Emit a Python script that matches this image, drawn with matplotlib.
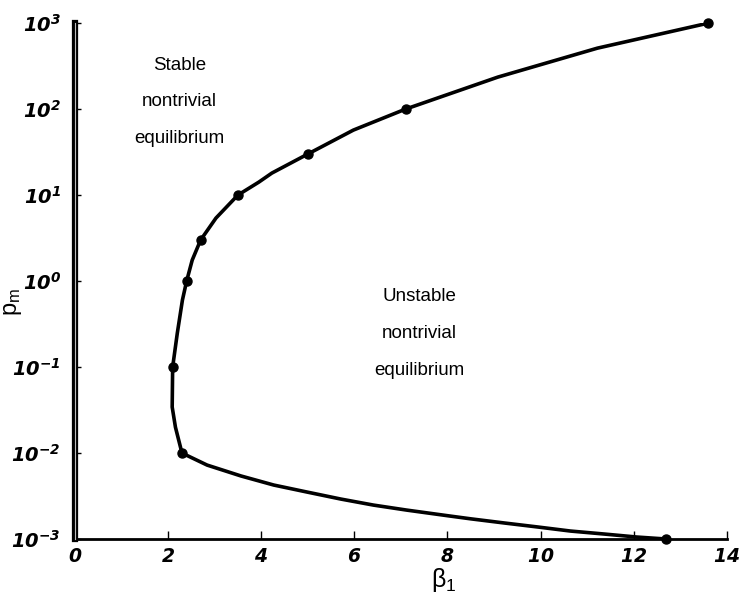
import matplotlib
matplotlib.use("Agg")
import matplotlib.pyplot as plt
from matplotlib.ticker import FixedLocator, FuncFormatter, NullLocator
import numpy as np

# boundary curve, from the top end round to the bottom end
curve_b1 = [13.6, 11.22, 9.08, 7.1, 5.98, 5.0, 4.23, 3.95, 3.5, 3.03, 2.7, 2.52,
            2.4, 2.31, 2.2, 2.1, 2.09, 2.16, 2.3,
            2.84, 3.57, 4.27, 4.98, 5.71, 6.41, 7.12, 8.06, 8.5, 9.23, 9.94,
            10.64, 11.37, 12.07, 12.7]
curve_logpm = [3.0, 2.709, 2.372, 2.0, 1.756, 1.477, 1.256, 1.151, 1.0, 0.733, 0.477, 0.244,
               0.0, -0.22, -0.605, -1.0, -1.465, -1.70, -2.0,
               -2.140, -2.267, -2.372, -2.453, -2.535, -2.605, -2.663, -2.733, -2.765,
               -2.814, -2.860, -2.907, -2.942, -2.977, -3.0]

# computed points (dots)
dot_b1 = [13.6, 7.1, 5.0, 3.5, 2.7, 2.4, 2.1, 2.3, 12.7]
dot_pm = [1e3, 1e2, 30, 10, 3, 1, 0.1, 0.01, 0.001]

xticks = [0, 2, 4, 6, 8, 10, 12, 14]
yexps = [-3, -2, -1, 0, 1, 2, 3]

plt.rcParams["mathtext.fontset"] = "custom"
plt.rcParams["mathtext.rm"] = "DejaVu Sans:italic:bold"
plt.rcParams["mathtext.it"] = "DejaVu Sans:italic:bold"
plt.rcParams["mathtext.sf"] = "Liberation Sans"

fig = plt.figure(figsize=(7.41, 5.93), dpi=100)
ax = fig.add_axes([0.101, 0.091, 0.880, 0.870])

pm = 10 ** np.array(curve_logpm)
ax.plot(curve_b1, pm, color="black", lw=2.6, solid_joinstyle="round")
ax.plot(dot_b1, dot_pm, "o", color="black", ms=6.5, clip_on=False, zorder=5)

ax.set_yscale("log")
ax.set_xlim(0, 14)
ax.set_ylim(1e-3, 1e3)

ax.xaxis.set_major_locator(FixedLocator(xticks))
ax.xaxis.set_major_formatter(FuncFormatter(lambda v, p: r"$%d$" % v))
ax.yaxis.set_major_locator(FixedLocator([10.0 ** e for e in yexps]))
ax.yaxis.set_minor_locator(NullLocator())
ax.yaxis.set_major_formatter(FuncFormatter(
    lambda v, p: r"$10^{%d}$" % int(round(np.log10(v)))))

ax.tick_params(axis="x", direction="in", length=6, width=1, labelsize=13.5, pad=6)
ax.tick_params(axis="y", direction="in", length=4, width=1, labelsize=14, pad=10)

for s in ["top", "right"]:
    ax.spines[s].set_visible(False)
ax.spines["bottom"].set_linewidth(2)
ax.spines["left"].set_linewidth(4.5)
ax.axvline(0, color="#bbbbbb", lw=0.8, zorder=6, clip_on=False)

ax.set_xlabel(r"$\mathsf{\beta_1}$", fontsize=18)
ax.xaxis.set_label_coords(0.565, -0.053)
ax.set_ylabel(r"$\mathsf{p_m}$", fontsize=17)
ax.yaxis.set_label_coords(-0.078, 0.46)

txt = dict(ha="center", va="center", fontsize=13.5, family="Liberation Sans",
           transform=ax.transData)
ax.text(2.25, 10 ** 2.51, "Stable", **txt)
ax.text(2.25, 10 ** 2.09, "nontrivial", **txt)
ax.text(2.25, 10 ** 1.66, "equilibrium", **txt)
ax.text(7.4, 10 ** -0.18, "Unstable", **txt)
ax.text(7.4, 10 ** -0.61, "nontrivial", **txt)
ax.text(7.4, 10 ** -1.04, "equilibrium", **txt)

fig.savefig("out.png", dpi=100)
